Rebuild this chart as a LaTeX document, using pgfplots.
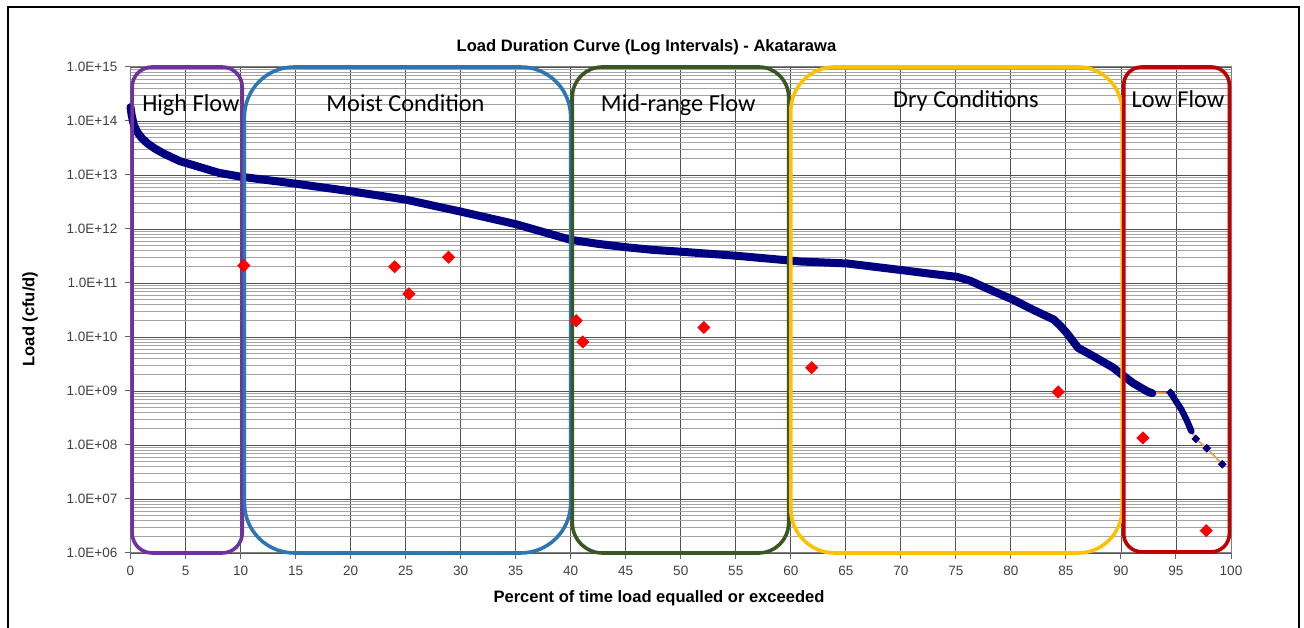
\documentclass[border=0pt]{standalone}
\usepackage{fontspec}
\setmainfont{Liberation Sans}
\newfontfamily\calibri{Carlito}
\usepackage{pgfplots}
\pgfplotsset{compat=1.18}
\definecolor{navyc}{RGB}{0,0,128}
\definecolor{orangec}{RGB}{240,150,80}
\definecolor{purplec}{RGB}{112,48,160}
\definecolor{bluec}{RGB}{46,117,182}
\definecolor{greenc}{RGB}{56,87,35}
\definecolor{yellowc}{RGB}{255,192,0}
\definecolor{redc}{RGB}{192,0,0}
\begin{document}
\begin{tikzpicture}
\useasboundingbox (-65.25bp,-37.5bp) rectangle (586.75bp,276.5bp);
\begin{axis}[
  at={(0,0)}, anchor=south west,
  scale only axis, width=550.25bp, height=243bp,
  xmin=0, xmax=100, ymode=log, ymin=1e6, ymax=1e15,
  xtick={0,5,...,100},
  ytick={1e6,1e7,1e8,1e9,1e10,1e11,1e12,1e13,1e14,1e15},
  yticklabels={1.0E+06,1.0E+07,1.0E+08,1.0E+09,1.0E+10,1.0E+11,1.0E+12,1.0E+13,1.0E+14,1.0E+15},
  /pgf/number format/assume math mode=true,
  xmajorgrids, ymajorgrids, yminorgrids,
  major grid style={black!68, line width=0.45bp},
  minor grid style={black!36, line width=0.45bp},
  tick align=outside, tick pos=left,
  major tick length=3bp, minor tick length=0pt,
  axis line style={black!50, line width=0.5bp},
  tick style={black!60, line width=0.5bp},
  ticklabel style={font=\fontsize{6.8}{8}\selectfont, text=black!75},
  clip=false,
]
% full series line (orange, thin)
\addplot[orangec, line width=0.8bp] coordinates {
(0,1.8e14) (0.1,1.3e14) (0.3,8.5e13) (0.6,6.3e13) (1.0,4.9e13) (1.5,3.9e13) (2.2,3.1e13)
(3,2.5e13) (4.5,1.8e13) (6.3,1.4e13) (8,1.1e13)
(10,9.3e12) (15,6.9e12) (20,5.0e12) (25,3.5e12) (30,2.1e12) (35,1.23e12) (40,6.3e11)
(42.5,5.3e11) (45,4.6e11) (47.5,4.1e11) (50,3.8e11) (55,3.2e11) (60.9,2.5e11) (65.1,2.3e11)
(70,1.74e11) (72.5,1.5e11) (75.1,1.3e11) (76.3,1.1e11)
(77.5,8.5e10) (78.8,6.5e10) (80.2,4.9e10) (82,3.2e10) (83.9,2.1e10) (84.5,1.6e10) (85.1,1.17e10) (86.1,6.3e9) (87.5,4.4e9)
(89.3,2.7e9) (90.1,2.0e9) (91.1,1.4e9) (92.4,9.8e8) (92.85,9.1e8)
(94.5,9.3e8) (95.5,4.5e8) (96.0,2.8e8) (96.4,1.8e8) (96.8,1.3e8) (97.8,8.7e7) (99.2,4.4e7)
};
% dense markers (navy band)
\addplot[navyc, line width=4bp, line cap=round, line join=round] coordinates {
(0,1.8e14) (0.1,1.3e14) (0.3,8.5e13) (0.6,6.3e13) (1.0,4.9e13) (1.5,3.9e13) (2.2,3.1e13)
(3,2.5e13) (4.5,1.8e13) (6.3,1.4e13) (8,1.1e13)
(10,9.3e12) (15,6.9e12) (20,5.0e12) (25,3.5e12) (30,2.1e12) (35,1.23e12) (40,6.3e11)
(42.5,5.3e11) (45,4.6e11) (47.5,4.1e11) (50,3.8e11) (55,3.2e11) (60.9,2.5e11) (65.1,2.3e11)
(70,1.74e11) (72.5,1.5e11) (75.1,1.3e11) (76.3,1.1e11)
(77.5,8.5e10) (78.8,6.5e10) (80.2,4.9e10) (82,3.2e10) (83.9,2.1e10) (84.5,1.6e10) (85.1,1.17e10) (86.1,6.3e9) (87.5,4.4e9)
(89.3,2.7e9) (90.1,2.0e9) (91.1,1.4e9) (92.4,9.8e8) (92.85,9.1e8)
};
\addplot[navyc, line width=3.2bp, line cap=round, line join=round] coordinates {
(94.5,9.3e8) (95.5,4.5e8) (96.0,2.8e8) (96.4,1.8e8)
};
\addplot[only marks, mark=diamond*, mark size=1.9bp, navyc, mark options={xscale=1.33}] coordinates {
(94.5,9.3e8) (96.8,1.3e8) (97.8,8.7e7) (99.2,4.4e7)
};
% flow-regime boxes
\draw[purplec, line width=1.8bp, rounded corners=10bp] (axis cs:0.15,1e15) rectangle (axis cs:10.15,1e6);
\draw[bluec, line width=1.8bp, rounded corners=25bp] (axis cs:10.35,1e15) rectangle (axis cs:40.0,1e6);
\draw[greenc, line width=1.8bp, rounded corners=15bp] (axis cs:40.15,1e15) rectangle (axis cs:59.8,1e6);
\draw[yellowc, line width=1.8bp, rounded corners=22bp] (axis cs:60.0,1e15) rectangle (axis cs:90.1,1e6);
\draw[redc, line width=1.8bp, rounded corners=9bp] (axis cs:90.25,1e15) rectangle (axis cs:99.85,1.05e6);
% observed loads
\addplot[only marks, mark=diamond*, mark size=3bp, red, mark options={xscale=1.33}] coordinates {
(10.3,2.1e11) (24.0,2.0e11) (25.3,6.3e10) (28.9,3.0e11) (40.5,2.0e10) (41.1,8.1e9)
(52.1,1.5e10) (61.9,2.7e9) (84.3,9.6e8) (92.0,1.35e8) (97.75,2.6e6)
};
\end{axis}
\node[anchor=base, font=\calibri\fontsize{12.2}{14}\selectfont] at (30.2bp,220.6bp) {High Flow};
\node[anchor=base, font=\calibri\fontsize{12.2}{14}\selectfont] at (137.5bp,220.5bp) {Moist Condition};
\node[anchor=base, font=\calibri\fontsize{12.2}{14}\selectfont] at (273.9bp,220.5bp) {Mid-range Flow};
\node[anchor=base, font=\calibri\fontsize{12.2}{14}\selectfont] at (417.75bp,222.5bp) {Dry Conditions};
\node[anchor=base, font=\calibri\fontsize{12.2}{14}\selectfont] at (523.75bp,222.5bp) {Low Flow};
\node[font=\bfseries\fontsize{8.3}{10}\selectfont] at (258bp,253bp) {Load Duration Curve (Log Intervals) - Akatarawa};
\node[font=\bfseries\fontsize{8.3}{10}\selectfont] at (264.25bp,-22.5bp) {Percent of time load equalled or exceeded};
\node[font=\bfseries\fontsize{8.3}{10}\selectfont, rotate=90] at (-50.25bp,117bp) {Load (cfu/d)};
\draw[black, line width=1bp] (-61.25bp,-40bp) -- (-61.25bp,273bp) -- (584.25bp,273bp) -- (584.25bp,-40bp);
\end{tikzpicture}
\end{document}
